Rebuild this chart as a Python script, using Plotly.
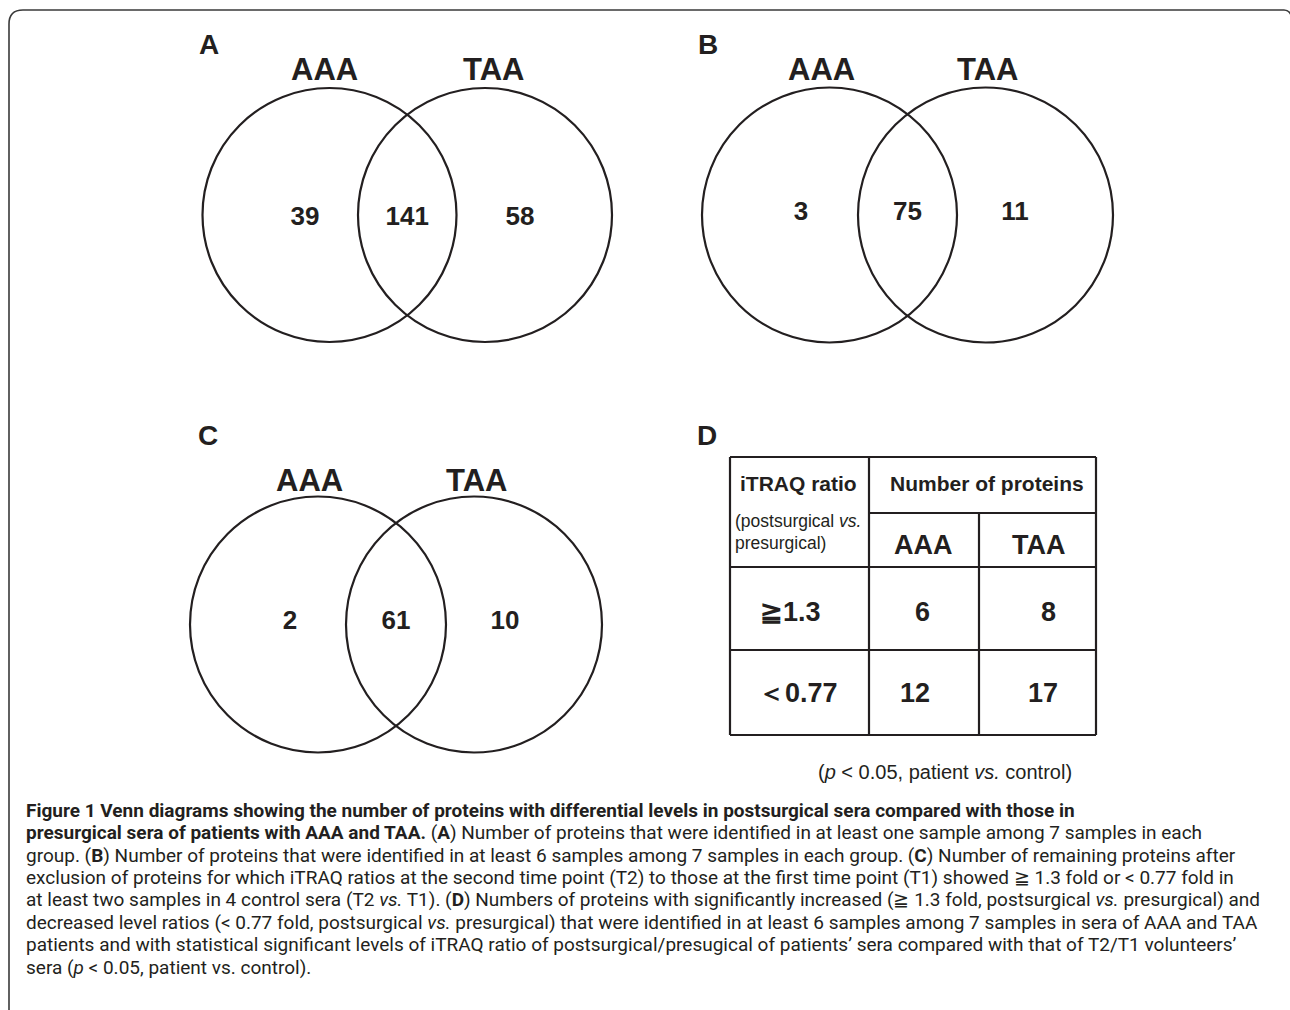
import plotly.graph_objects as go

# ---------------- data ----------------
panels = ["A", "B", "C"]
set_names = ["AAA", "TAA"]
aaa_only = [39, 3, 2]
shared = [141, 75, 61]
taa_only = [58, 11, 10]

table_ratio_labels = ["≧1.3", "＜0.77"]
table_aaa = [6, 12]
table_taa = [8, 17]

caption_bold_1 = "Figure 1 Venn diagrams showing the number of proteins with differential levels in postsurgical sera compared with those in"
caption_bold_2 = "presurgical sera of patients with AAA and TAA."
caption_rest = [
    " (<b>A</b>) Number of proteins that were identified in at least one sample among 7 samples in each",
    "group. (<b>B</b>) Number of proteins that were identified in at least 6 samples among 7 samples in each group. (<b>C</b>) Number of remaining proteins after",
    "exclusion of proteins for which iTRAQ ratios at the second time point (T2) to those at the first time point (T1) showed ≧ 1.3 fold or &lt; 0.77 fold in",
    "at least two samples in 4 control sera (T2 <i>vs.</i> T1). (<b>D</b>) Numbers of proteins with significantly increased (≧ 1.3 fold, postsurgical <i>vs.</i> presurgical) and",
    "decreased level ratios (&lt; 0.77 fold, postsurgical <i>vs.</i> presurgical) that were identified in at least 6 samples among 7 samples in sera of AAA and TAA",
    "patients and with statistical significant levels of iTRAQ ratio of postsurgical/presugical of patients’ sera compared with that of T2/T1 volunteers’",
    "sera (<i>p</i> &lt; 0.05, patient vs. control).",
]

# ---------------- layout constants ----------------
W, H = 1290, 1010
INK = "#231f20"
BOLD = "Liberation Sans, Arial, sans-serif"
CAP_FONT = "Roboto, sans-serif"

venn_geom = [
    dict(cxl=329.5, cxr=485.0, cy=215.0, r=127.0, letter=(-121, -171), name_dy=-146, name_dx=(-5.5, 8), num_dy=2, num_dx=(-24.5, 35)),
    dict(cxl=829.5, cxr=985.5, cy=215.0, r=127.5, letter=(-122, -171), name_dy=-146, name_dx=(-8.5, 1.5), num_dy=-3, num_dx=(-28.5, 29.5)),
    dict(cxl=318.0, cxr=474.0, cy=624.5, r=128.0, letter=(-110, -189), name_dy=-144.5, name_dx=(-9, 2), num_dy=-3.5, num_dx=(-28, 31)),
]

fig = go.Figure()
shapes = []
annotations = []

# frame
shapes.append(dict(type="path", xref="x", yref="y",
                   path="M 9,1012 L 9,24 Q 9,10 23,10 L 1284,10 Q 1289,10 1291,15",
                   line=dict(color="#3a3a3a", width=1.6)))

# Venn diagrams
for i, p in enumerate(panels):
    g = venn_geom[i]
    for cx in (g["cxl"], g["cxr"]):
        shapes.append(dict(type="circle", xref="x", yref="y",
                           x0=cx - g["r"], x1=cx + g["r"],
                           y0=g["cy"] - g["r"], y1=g["cy"] + g["r"],
                           line=dict(color=INK, width=2.2)))
    annotations.append(dict(x=g["cxl"] + g["letter"][0], y=g["cy"] + g["letter"][1],
                            text=f"<b>{p}</b>", showarrow=False, xref="x", yref="y",
                            font=dict(family=BOLD, size=28, color=INK),
                            xanchor="center", yanchor="middle"))
    for name, cx, dx in zip(set_names, (g["cxl"], g["cxr"]), g["name_dx"]):
        annotations.append(dict(x=cx + dx, y=g["cy"] + g["name_dy"], text=f"<b>{name}</b>",
                                showarrow=False, xref="x", yref="y",
                                font=dict(family=BOLD, size=31, color=INK),
                                xanchor="center", yanchor="middle"))
    xs = [g["cxl"] + g["num_dx"][0], (g["cxl"] + g["cxr"]) / 2, g["cxr"] + g["num_dx"][1]]
    ys = [g["cy"] + g["num_dy"] + 1] * 3
    vals = [aaa_only[i], shared[i], taa_only[i]]
    fig.add_trace(go.Scatter(x=xs, y=ys, mode="text",
                             text=[f"<b>{v}</b>" for v in vals],
                             textfont=dict(family=BOLD, size=26, color=INK),
                             textposition="middle center", hoverinfo="skip",
                             showlegend=False))

# Panel D table
annotations.append(dict(x=707, y=435, text="<b>D</b>", showarrow=False, xref="x", yref="y",
                        font=dict(family=BOLD, size=28, color=INK),
                        xanchor="center", yanchor="middle"))
tx0, tx1, tx2, tx3 = 730, 869, 979, 1096
ty0, ty1, ty2, ty3, ty4 = 457, 513, 567, 650, 735
lw = 2.2
def hline(x0, x1, y):
    shapes.append(dict(type="line", xref="x", yref="y", x0=x0, x1=x1, y0=y, y1=y,
                       line=dict(color=INK, width=lw)))
def vline(x, y0, y1):
    shapes.append(dict(type="line", xref="x", yref="y", x0=x, x1=x, y0=y0, y1=y1,
                       line=dict(color=INK, width=lw)))
hline(tx0, tx3, ty0)
hline(tx1, tx3, ty1)
hline(tx0, tx3, ty2)
hline(tx0, tx3, ty3)
hline(tx0, tx3, ty4)
vline(tx0, ty0, ty4)
vline(tx1, ty0, ty4)
vline(tx2, ty1, ty4)
vline(tx3, ty0, ty4)

def txt(x, y, s, size, bold=False, xanchor="center", family=BOLD):
    annotations.append(dict(x=x, y=y, text=(f"<b>{s}</b>" if bold else s), showarrow=False,
                            xref="x", yref="y", font=dict(family=family, size=size, color=INK),
                            xanchor=xanchor, yanchor="middle"))

txt(798, 483, "iTRAQ ratio", 21, bold=True)
txt(733, 521, "(postsurgical <i>vs.</i>", 17.5, xanchor="left")
txt(733, 543, "presurgical)", 17.5, xanchor="left")
txt(987, 483, "Number of proteins", 21, bold=True)
txt(923, 545, set_names[0], 27, bold=True)
txt(1039, 545, set_names[1], 27, bold=True)
row_y = [612, 693]
label_x = [790, 798]
aaa_x = [922, 915]
taa_x = [1048, 1043]
for k in range(2):
    txt(label_x[k], row_y[k], table_ratio_labels[k], 27, bold=True)
    txt(aaa_x[k], row_y[k], str(table_aaa[k]), 27, bold=True)
    txt(taa_x[k], row_y[k], str(table_taa[k]), 27, bold=True)
txt(945, 772, "(<i>p</i> &lt; 0.05, patient <i>vs.</i> control)", 20)

# caption: one multi-line annotation (line spacing = 1.3 x 17.2 px ≈ 22.4 px)
REG0 = '<span style="font-size:19px">'
BLD0 = '<span style="font-size:19px"><b>'
BLD1 = '</b></span>'
END = '</span>'
cap_lines = [BLD0 + caption_bold_1 + BLD1,
             BLD0 + caption_bold_2 + BLD1 + REG0 + caption_rest[0] + END]
cap_lines += [REG0 + s + END for s in caption_rest[1:]]
cap_y_first, cap_dy = 811, 22.36
n_lines = len(cap_lines)
annotations.append(dict(x=24, y=cap_y_first + (n_lines - 1) * cap_dy / 2,
                        text="<br>".join(cap_lines), showarrow=False, align="left",
                        xref="x", yref="y", xanchor="left", yanchor="middle",
                        font=dict(family=CAP_FONT, size=17.2, color=INK)))

fig.update_layout(
    width=W, height=H,
    margin=dict(l=0, r=0, t=0, b=0),
    paper_bgcolor="white", plot_bgcolor="white",
    xaxis=dict(range=[0, W], visible=False, fixedrange=True),
    yaxis=dict(range=[H, 0], visible=False, fixedrange=True),
    shapes=shapes, annotations=annotations, showlegend=False,
)
fig.write_html("out.html", config={"displayModeBar": False},
               post_script="document.body.style.margin='0';document.body.style.overflow='hidden';")
